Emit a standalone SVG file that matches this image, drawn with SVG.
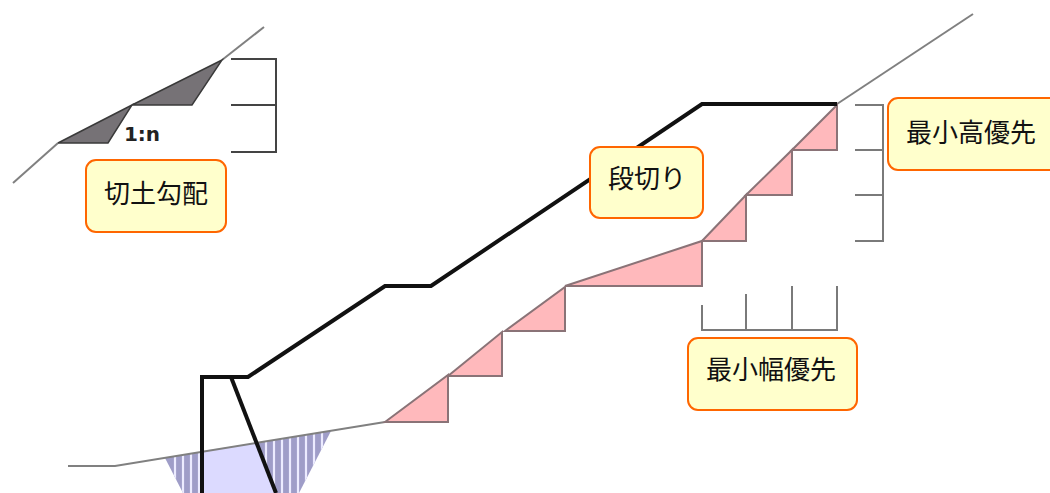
<svg xmlns="http://www.w3.org/2000/svg" width="1050" height="493" viewBox="0 0 1050 493">
<style>
.ground{fill:none;stroke:#808080;stroke-width:2}
.heavy{fill:none;stroke:#111;stroke-width:4}
.cut{fill:#ffb9bc;stroke:#8a7377;stroke-width:2}
.slope{fill:#767276;stroke:#3a3a3a;stroke-width:1.5}
.br{fill:none;stroke:#444;stroke-width:2}
.br2{fill:none;stroke:#7a7a7a;stroke-width:2}
.hatch{stroke:#ecebff;stroke-width:2.2}
.box{fill:#ffffcc;stroke:#ff6600;stroke-width:2}
.lbl{font-family:"Noto Sans CJK JP","Noto Sans",sans-serif;font-size:26px;font-weight:400;fill:#111;text-anchor:middle}
</style>
<defs>
<clipPath id="trench"><polygon points="165,458 331,431 299,493 183,493"/></clipPath>
</defs>
<rect width="1050" height="493" fill="#fff"/>
<g id="connectors">
<polyline class="ground" points="13,183 58,143"/>
<polyline class="ground" points="222,60 264,27"/>
<polyline class="ground" points="837,104 973,14"/>
<polygon points="165,458 331,431 299,493 183,493" fill="#9f9dc8"/>
<g class="hatch" clip-path="url(#trench)">
<path d="M175 450V493M183 450V493M191 450V493M199 450V493M266 425V493M274 425V493M282 425V493M290 425V493M298 425V493M306 425V493M314 425V493M322 425V493"/>
</g>
<polygon points="202,451 255,443 276,493 202,493" fill="#dcdaff"/>
<polyline class="ground" points="68,466 115,466 385,422"/>
<polygon class="cut" points="385,422 448,375 448,422"/>
<polygon class="cut" points="448,376 502,332 502,376"/>
<polygon class="cut" points="505,331 565,287 565,331"/>
<polygon class="cut" points="565,286 702,241 702,286"/>
<polygon class="cut" points="702,241 746,195 746,241"/>
<polygon class="cut" points="746,195 792,150 792,195"/>
<polygon class="cut" points="792,150 837,105 837,150"/>
<polyline class="heavy" points="202,493 202,377 248,377 385,286 431,286 702,104 837,104"/>
<line class="heavy" x1="231" y1="377" x2="276" y2="493"/>
<polygon class="slope" points="58,143 132,105 108,143"/>
<polygon class="slope" points="132,105 222,60 192,105"/>
<polyline class="br" points="231,59 276,59 276,152 231,152"/>
<line class="br" x1="231" y1="105" x2="276" y2="105"/>
<polyline class="br2" points="855,105 883,105 883,241 855,241"/>
<line class="br2" x1="855" y1="150" x2="883" y2="150"/>
<line class="br2" x1="855" y1="195" x2="883" y2="195"/>
<polyline class="br2" points="702,305 702,330 837,330 837,286"/>
<line class="br2" x1="746" y1="294" x2="746" y2="330"/>
<line class="br2" x1="792" y1="286" x2="792" y2="330"/>
</g>
<text x="142" y="141" font-family="'DejaVu Sans',sans-serif" font-weight="bold" font-size="20" fill="#222" text-anchor="middle">1:n</text>
<g id="n1"><rect class="box" x="86" y="160" width="140" height="72" rx="10"/><text class="lbl" x="156" y="203">切土勾配</text></g>
<g id="n2"><rect class="box" x="590" y="147" width="113" height="71" rx="10"/><text class="lbl" x="647" y="188">段切り</text></g>
<g id="n3"><rect class="box" x="888" y="98" width="172" height="72" rx="10"/><text class="lbl" x="971" y="142">最小高優先</text></g>
<g id="n4"><rect class="box" x="688" y="338" width="169" height="72" rx="10"/><text class="lbl" x="771" y="379">最小幅優先</text></g>
</svg>
